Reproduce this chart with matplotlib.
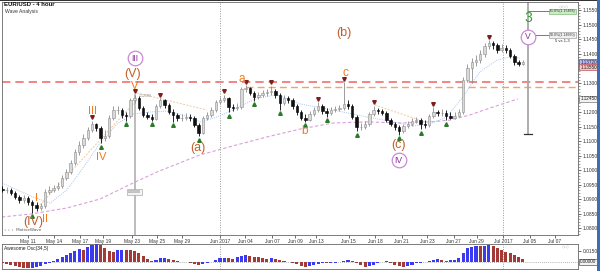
import matplotlib
matplotlib.use("Agg")
import matplotlib.pyplot as plt
import matplotlib.transforms as mtransforms
from matplotlib.patches import Rectangle
from matplotlib.ticker import MultipleLocator, FormatStrFormatter
import numpy as np

plt.rcParams['font.family'] = ['Liberation Sans', 'DejaVu Sans']

# ---------------- data (EUR/USD, 8-hour resampled reading of the 4h chart) -------------
first_index = -6          # bar index of first candle (0 = May 11)
first_open = 1.0934
closes = [1.0931, 1.0931, 1.0921, 1.0907, 1.0897, 1.0903,
          1.0890, 1.0879, 1.0869, 1.0876, 1.0924, 1.0931, 1.0938, 1.0945, 1.0972, 1.0993,
          1.1024, 1.1062, 1.1086, 1.1110, 1.1138, 1.1159, 1.1145, 1.1110, 1.1117, 1.1179,
          1.1207, 1.1207, 1.1190, 1.1186, 1.1241, 1.1248, 1.1214, 1.1190, 1.1183, 1.1176,
          1.1221, 1.1241, 1.1224, 1.1200, 1.1190, 1.1179, 1.1179, 1.1183, 1.1179, 1.1155,
          1.1128, 1.1179, 1.1190, 1.1207, 1.1234, 1.1241, 1.1248, 1.1217, 1.1214, 1.1217,
          1.1279, 1.1283, 1.1266, 1.1252, 1.1259, 1.1266, 1.1269, 1.1272, 1.1259, 1.1231,
          1.1248, 1.1241, 1.1221, 1.1200, 1.1179, 1.1172, 1.1193, 1.1207, 1.1221, 1.1203,
          1.1197, 1.1207, 1.1210, 1.1214, 1.1228, 1.1221, 1.1183, 1.1148, 1.1148, 1.1159,
          1.1193, 1.1207, 1.1203, 1.1197, 1.1172, 1.1159, 1.1148, 1.1134, 1.1152, 1.1159,
          1.1169, 1.1172, 1.1159, 1.1155, 1.1186, 1.1200, 1.1197, 1.1197, 1.1186, 1.1179,
          1.1186, 1.1200, 1.1310, 1.1352, 1.1372, 1.1379, 1.1400, 1.1428, 1.1438, 1.1431,
          1.1414, 1.1421, 1.1414, 1.1393, 1.1372, 1.1366, 1.1372]
highs = [1.0945, 1.0941, 1.0938, 1.0928, 1.0914, 1.0914,
         1.0910, 1.0897, 1.0890, 1.0886, 1.0934, 1.0945, 1.0948, 1.0959, 1.0983, 1.1003,
         1.1034, 1.1072, 1.1100, 1.1124, 1.1148, 1.1169, 1.1162, 1.1152, 1.1138, 1.1190,
         1.1221, 1.1221, 1.1214, 1.1200, 1.1248, 1.1259, 1.1255, 1.1221, 1.1200, 1.1193,
         1.1228, 1.1248, 1.1245, 1.1231, 1.1210, 1.1197, 1.1193, 1.1197, 1.1193, 1.1186,
         1.1162, 1.1186, 1.1200, 1.1217, 1.1241, 1.1252, 1.1259, 1.1252, 1.1228, 1.1231,
         1.1286, 1.1293, 1.1286, 1.1272, 1.1269, 1.1276, 1.1279, 1.1290, 1.1279, 1.1266,
         1.1259, 1.1255, 1.1248, 1.1228, 1.1207, 1.1193, 1.1203, 1.1217, 1.1234, 1.1228,
         1.1214, 1.1217, 1.1221, 1.1224, 1.1303, 1.1241, 1.1228, 1.1190, 1.1162, 1.1169,
         1.1200, 1.1221, 1.1214, 1.1210, 1.1203, 1.1179, 1.1166, 1.1155, 1.1159, 1.1169,
         1.1179, 1.1183, 1.1179, 1.1172, 1.1193, 1.1217, 1.1207, 1.1210, 1.1207, 1.1200,
         1.1200, 1.1210, 1.1321, 1.1366, 1.1386, 1.1397, 1.1414, 1.1438, 1.1448, 1.1445,
         1.1438, 1.1434, 1.1431, 1.1421, 1.1400, 1.1379, 1.1379]
lows = [1.0924, 1.0921, 1.0914, 1.0900, 1.0886, 1.0886,
        1.0879, 1.0852, 1.0859, 1.0862, 1.0869, 1.0917, 1.0924, 1.0931, 1.0938, 1.0966,
        1.0986, 1.1017, 1.1052, 1.1076, 1.1103, 1.1131, 1.1134, 1.1093, 1.1100, 1.1110,
        1.1172, 1.1193, 1.1179, 1.1169, 1.1179, 1.1231, 1.1207, 1.1183, 1.1176, 1.1169,
        1.1172, 1.1214, 1.1214, 1.1193, 1.1166, 1.1169, 1.1169, 1.1172, 1.1169, 1.1148,
        1.1117, 1.1124, 1.1172, 1.1183, 1.1200, 1.1228, 1.1234, 1.1200, 1.1203, 1.1207,
        1.1210, 1.1269, 1.1259, 1.1238, 1.1245, 1.1252, 1.1255, 1.1259, 1.1248, 1.1207,
        1.1224, 1.1231, 1.1210, 1.1190, 1.1172, 1.1166, 1.1169, 1.1186, 1.1200, 1.1193,
        1.1183, 1.1190, 1.1200, 1.1203, 1.1207, 1.1210, 1.1176, 1.1134, 1.1138, 1.1141,
        1.1152, 1.1186, 1.1193, 1.1190, 1.1166, 1.1152, 1.1138, 1.1121, 1.1128, 1.1145,
        1.1152, 1.1162, 1.1141, 1.1145, 1.1148, 1.1179, 1.1186, 1.1186, 1.1172, 1.1176,
        1.1176, 1.1183, 1.1193, 1.1303, 1.1300, 1.1359, 1.1369, 1.1390, 1.1417, 1.1417,
        1.1403, 1.1407, 1.1403, 1.1386, 1.1362, 1.1359, 1.1362]

top_fractals = [15, 25, 31, 46, 51, 57, 68, 74, 81, 95, 108]
bottom_fractals = [1, 17, 23, 29, 34, 40, 47, 53, 59, 65, 70, 77, 87, 92, 98]

ao_values = [-0.0014, -0.0027, -0.0041, -0.0055, -0.0068, -0.0082,
             -0.0085, -0.0080, -0.0072, -0.0055, -0.0030, -0.0012, 0.0012, 0.0040, 0.0068, 0.0095,
             0.0120, 0.0150, 0.0175, 0.0170, 0.0205, 0.0230, 0.0240, 0.0232, 0.0190, 0.0150,
             0.0138, 0.0160, 0.0170, 0.0165, 0.0158, 0.0150, 0.0125, 0.0085, 0.0045, 0.0015,
             0.0028, 0.0048, 0.0052, 0.0040, 0.0025, 0.0012, 0.0002, -0.0006, -0.0012, -0.0025,
             -0.0038, -0.0030, -0.0015, -0.0002, 0.0025, 0.0048, 0.0055, 0.0048, 0.0042, 0.0065,
             0.0088, 0.0095, 0.0082, 0.0070, 0.0062, 0.0055, 0.0042, 0.0048, 0.0040, 0.0028,
             0.0014, 0.0002, -0.0012, -0.0032, -0.0052, -0.0065, -0.0055, -0.0042, -0.0028, -0.0016,
             -0.0020, -0.0015, -0.0008, -0.0002, 0.0012, 0.0025, 0.0012, -0.0015, -0.0040, -0.0065,
             -0.0055, -0.0035, -0.0015, 0.0002, 0.0008, -0.0015, -0.0040, -0.0060, -0.0068, -0.0055,
             -0.0035, -0.0015, -0.0008, 0.0000, 0.0012, 0.0028, 0.0035, 0.0028, 0.0020, 0.0025,
             0.0032, 0.0055, 0.0120, 0.0190, 0.0210, 0.0215, 0.0212, 0.0225, 0.0232, 0.0220,
             0.0195, 0.0165, 0.0140, 0.0125, 0.0098, 0.0070, 0.0045]

ma_slow_x = [-6.1, 0.5, 9.1, 16.9, 24.6, 30.2, 40.3, 48.0, 56.0, 63.7, 71.5, 79.4, 87.2, 94.2, 98.9, 103.6, 108.3, 114.8]
ma_slow_y = [1.0838, 1.0848, 1.0869, 1.0900, 1.0955, 1.0993, 1.1052, 1.1083, 1.1114, 1.1141, 1.1162, 1.1166, 1.1162, 1.1166, 1.1172, 1.1190, 1.1214, 1.1245]
ma_fast_x = [-6.1, 1.2, 5.2, 9.1, 12.9, 16.9, 20.9, 24.6, 28.6, 32.6, 36.3, 40.3, 44.3, 48.0, 53.7, 58.4, 63.7, 71.5, 79.4, 87.2, 90.2, 94.2, 98.2, 101.9, 105.9, 109.9, 113.0, 115.3]
ma_fast_y = [1.0955, 1.0907, 1.0886, 1.0931, 1.1007, 1.1093, 1.1159, 1.1193, 1.1200, 1.1203, 1.1190, 1.1166, 1.1183, 1.1207, 1.1248, 1.1259, 1.1228, 1.1207, 1.1183, 1.1162, 1.1152, 1.1159, 1.1183, 1.1252, 1.1338, 1.1379, 1.1390, 1.1386]

trend_lines = [([2.8, 25.5], [1.0879, 1.1241]),
               ([25.5, 41.9], [1.1266, 1.1207]),
               ([81.3, 93.0], [1.1224, 1.1166])]

date_labels = ["May 11", "May 14", "May 17", "May 19", "May 23", "May 25", "May 29", "Jun 2017",
               "Jun 04", "Jun 07", "Jun 09", "Jun 13", "Jun 15", "Jun 18", "Jun 21", "Jun 23",
               "Jun 27", "Jun 29", "Jul 2017", "Jul 05", "Jul 07"]
date_pos = [0, 6.1, 12.2, 17.6, 24.4, 30.2, 36.1, 45.0, 50.9, 57.2, 62.6, 67.5, 75.2, 81.3,
            87.6, 93.5, 99.8, 105.2, 111.3, 117.6, 123.5]

resistance = 1.1303
support_a = 1.1286
fib_618 = 1.15468
fib_500 = 1.14660
target_low = 1.1124
target_bar = 117.2
ask_level = 1.1355

# ---------------- figure ----------------
W, H = 600, 271
fig = plt.figure(figsize=(6, 2.71), dpi=100)
fig.patch.set_facecolor('white')


def fbox(x0, y0, x1, y1):
    return [x0 / W, 1 - y1 / H, (x1 - x0) / W, (y1 - y0) / H]


ax = fig.add_axes(fbox(2, 2, 578, 235))
ax2 = fig.add_axes(fbox(2, 244, 578, 269))

XMIN, XMAX = -6.09, 128.9
ax.set_xlim(XMIN, XMAX)
ax.set_ylim(1.07759, 1.15793)
ax2.set_xlim(XMIN, XMAX)
ax2.set_ylim(-0.00955, 0.02455)

idx = np.arange(first_index, first_index + len(closes))
opens = [first_open] + closes[:-1]

# candles
for x, o, h, l, c in zip(idx, opens, highs, lows, closes):
    up = c >= o
    ec = '#8c8c8c' if up else '#000000'
    fc = '#d9d9d9' if up else '#111111'
    ax.vlines(x, l, h, color=ec, lw=0.6, zorder=3)
    b = min(o, c)
    hgt = max(abs(c - o), 0.00010)
    ax.add_patch(Rectangle((x - 0.28, b), 0.56, hgt, fc=fc, ec=ec, lw=0.4, zorder=4))

# fractal markers
up_off = mtransforms.offset_copy(ax.transData, fig=fig, x=0, y=3.5, units='dots')
dn_off = mtransforms.offset_copy(ax.transData, fig=fig, x=0, y=-3.5, units='dots')
for k in top_fractals:
    ax.plot(k, highs[k - first_index], marker='v', ms=2.6, color='#7a1e1e', transform=up_off, zorder=6)
for k in bottom_fractals:
    ax.plot(k, lows[k - first_index], marker='^', ms=2.6, color='#2a7a2a', transform=dn_off, zorder=6)

# moving averages & trend lines
ax.plot(ma_slow_x, ma_slow_y, color='#d8a0dc', lw=0.8, ls=(0, (3, 2)), zorder=2)
ax.plot(ma_fast_x, ma_fast_y, color='#a9c4f0', lw=0.7, ls=(0, (1, 1.2)), zorder=2)
for tx, ty in trend_lines:
    ax.plot(tx, ty, color='#f2c89a', lw=0.7, ls=(0, (2, 1.5)), zorder=2)

# horizontal levels
ax.axhline(resistance, color='#f07070', lw=1.2, ls=(0, (5, 3)), zorder=2)
ax.plot([51, XMAX], [support_a, support_a], color='#f4a263', lw=1.0, ls=(0, (5, 3)), zorder=2)

# month separators
for lab in ("Jun 2017", "Jul 2017"):
    xp = date_pos[date_labels.index(lab)]
    for a in (ax, ax2):
        a.axvline(xp, color='#9a9a9a', lw=0.7, ls=(0, (1, 1.5)), zorder=1)

# vertical measure line at wave V
v_bar = 25
ax.plot([v_bar, v_bar], [ax.get_ylim()[0], highs[v_bar - first_index]], color='#b0b0b0', lw=1.2, zorder=2)
ax.text(v_bar + 1.0, highs[v_bar - first_index] - 0.0003, f"{highs[v_bar - first_index]:.5f}",
        fontsize=2.6, color='#888888', va='center', ha='left', zorder=7)
ax.text(v_bar, 1.0924, "0.00000", fontsize=2.6, color='#666666', ha='center', va='center',
        bbox=dict(boxstyle='square,pad=0.25', fc='#f4f4f4', ec='#999999', lw=0.4), zorder=7)

# target projection on the right
ax.plot([target_bar, target_bar], [target_low, ax.get_ylim()[1]], color='#a8a8a8', lw=1.3, zorder=2)
ax.plot([target_bar - 0.9, target_bar + 0.9], [target_low, target_low], color='#333333', lw=0.9, zorder=3)
for lvl, txt, fc, ec in ((fib_618, f"61.8%({fib_618:.5f})", '#c9efc0', '#6aa86a'),
                         (fib_500, f"50.0%({fib_500:.5f})", '#f0f0f0', '#909090')):
    ax.plot([target_bar, target_bar + 4.8], [lvl, lvl], color='#7a7a7a', lw=0.7, zorder=3)
    ax.text(target_bar + 5.0, lvl, txt, fontsize=2.6, color='#333333', ha='left', va='center',
            bbox=dict(boxstyle='square,pad=0.25', fc=fc, ec=ec, lw=0.4), zorder=7)
ax.text(125.3, 1.14448, "5 vs 1-3", fontsize=3.0, color='#222222', ha='center', va='center', zorder=7)

# wave labels
orange = '#f07a1a'
brown = '#c0602a'
purple = '#8e2c9e'
ring = '#c98ad8'


def wl(x, y, s, col, size):
    ax.text(x, y, s, color=col, fontsize=size, ha='center', va='center', zorder=8)


def circled(x, y, s):
    ax.plot(x, y, 'o', ms=10.5, mfc='white', mec=ring, mew=0.9, zorder=8)
    ax.text(x, y, s, color=purple, fontsize=6.2, ha='center', va='center', zorder=9)


circled(25.1, 1.1386, "III")
wl(24.6, 1.1331, "(V)", brown, 9)
wl(25.1, 1.1291, "V", orange, 8)
wl(15.2, 1.1203, "III", orange, 8)
wl(17.1, 1.1046, "IV", orange, 8)
wl(1.9, 1.0905, "I", orange, 8)
wl(1.2, 1.0822, "(IV)", brown, 9)
wl(3.9, 1.0830, "II", orange, 8)
wl(39.8, 1.1076, "(a)", brown, 9)
wl(50.2, 1.1315, "a", orange, 8.5)
wl(74.1, 1.1472, "(b)", brown, 9)
wl(74.3, 1.1333, "c", orange, 8.5)
wl(64.7, 1.1136, "b", orange, 8.5)
wl(86.9, 1.1085, "(c)", brown, 9)
circled(86.9, 1.1034, "IV")
ax.text(target_bar, 1.1524, "3", color='#34a034', fontsize=10, ha='center', va='center', zorder=8)
circled(target_bar, 1.1459, "V")

# titles
fig.text(4 / W, 1 - 5 / H, "EUR/USD - 4 hour", fontsize=4.3, fontweight='bold', color='#111111', va='center')
fig.text(5 / W, 1 - 11.5 / H, "Wave Analysis", fontsize=3.6, color='#333333', va='center')
ax.text(0.004, 0.012, "\u25e6 \u25e6 \u25e6  MotiveWave", transform=ax.transAxes, fontsize=3.0,
        color='#555555', ha='left', va='bottom', family=['DejaVu Sans'])
ax.text(0.985, 0.985, "\u25c7\u25c7\u25c7", transform=ax.transAxes, fontsize=3.2,
        color='#aaaaaa', ha='right', va='top', family=['DejaVu Sans'])

# axes styling
for a in (ax, ax2):
    for s in a.spines.values():
        s.set_color('#666666')
        s.set_linewidth(0.6)
    a.yaxis.tick_right()
    a.set_facecolor('white')

box_levels = [closes[-1], ask_level, ma_slow_y[-1]]
price_ticks = np.round(np.arange(1.080, 1.1551, 0.005), 3)
ax.set_yticks(price_ticks)
ax.set_yticklabels(["" if min(abs(t - b) for b in box_levels) < 0.0015 else f"{t:.5f}"
                    for t in price_ticks])
ax.yaxis.set_minor_locator(MultipleLocator(0.001))
ax.tick_params(axis='y', which='major', labelsize=3.5, length=2.2, width=0.5, pad=1.2, colors='#333333')
ax.tick_params(axis='y', which='minor', length=1.2, width=0.4, colors='#555555')
ax.set_xticks(date_pos)
ax.set_xticklabels(date_labels)
ax.tick_params(axis='x', labelsize=3.5, length=2, width=0.5, pad=1, colors='#333333')


def axis_box(a, p, text, fc, ec):
    a.text(1.004, p, text, transform=a.get_yaxis_transform(), fontsize=3.3, ha='left', va='center',
           color='#222222', bbox=dict(boxstyle='square,pad=0.2', fc=fc, ec=ec, lw=0.5),
           clip_on=False, zorder=10)


axis_box(ax, closes[-1], f"{closes[-1]:.5f}", '#b3b8ff', '#4a4ad0')
axis_box(ax, ask_level, f"{ask_level:.5f}", '#f5c4c4', '#c05050')
axis_box(ax, ma_slow_y[-1], f"{ma_slow_y[-1]:.5f}", '#f2f2f2', '#777777')

# Awesome oscillator
ao_colors = []
for k, v in enumerate(ao_values):
    if k > 0 and v > ao_values[k - 1]:
        ao_colors.append('#3a3af0')
    else:
        ao_colors.append('#a33a36')
ax2.bar(idx, ao_values, width=0.72, color=ao_colors, zorder=3)
ax2.axhline(0, color='#9a9a9a', lw=0.6, ls=(0, (1, 1.5)), zorder=1)
ax2.set_xticks([])
ax2.set_yticks([0.015])
ax2.yaxis.set_major_formatter(FormatStrFormatter('%.5f'))
ax2.tick_params(axis='y', labelsize=3.5, length=2, width=0.5, pad=1.2, colors='#333333')
axis_box(ax2, 0.0, "0.00000", '#f2f2f2', '#555555')
ax2.text(0.004, 0.82, "Awesome Osc(34,5)", transform=ax2.transAxes, fontsize=3.5, color='#222222',
         ha='left', va='center', zorder=10)
ax2.text(0.985, 0.93, "\u25c7-\u25c7", transform=ax2.transAxes, fontsize=3.0, color='#aaaaaa',
         ha='right', va='top', family=['DejaVu Sans'])

# window frame
fig.add_artist(Rectangle((0, 1 - 1.2 / H), 1, 1.2 / H, transform=fig.transFigure, fc='#333333', ec='none'))
fig.add_artist(Rectangle((597 / W, 0), 3 / W, 1, transform=fig.transFigure, fc='#3a6fb8', ec='none'))

fig.savefig("out.png", dpi=100, facecolor='white')
